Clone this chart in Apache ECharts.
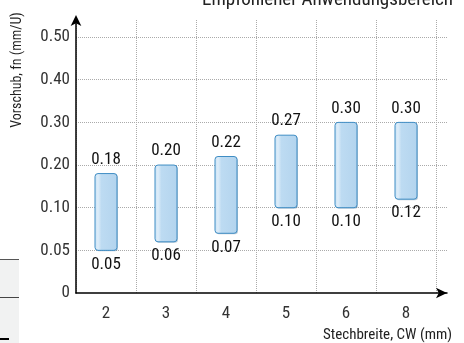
<!DOCTYPE html>
<html>
<head>
<meta charset="utf-8">
<script src="https://cdn.jsdelivr.net/npm/echarts@6/dist/echarts.min.js"></script>
<style>html,body{margin:0;padding:0;background:#fff}#c{width:464px;height:343px}</style>
</head>
<body>
<div id="c"></div>
<script>
const categories = ['2', '3', '4', '5', '6', '8'];
const minValues = [0.05, 0.06, 0.07, 0.10, 0.10, 0.12];
const maxValues = [0.18, 0.20, 0.22, 0.27, 0.30, 0.30];
const yTickValues = [0, 0.05, 0.10, 0.20, 0.30, 0.40, 0.50];
const yTickLabels = ['0', '0.05', '0.10', '0.20', '0.30', '0.40', '0.50'];

// piecewise axis: 0..0.10 in steps of 0.05, then steps of 0.10, each step equal length
function toPos(v) {
  for (let i = 1; i < yTickValues.length; i++) {
    if (v <= yTickValues[i]) {
      const a = yTickValues[i - 1], b = yTickValues[i];
      return (i - 1) + (v - a) / (b - a);
    }
  }
  return yTickValues.length - 1;
}

const FONT = "'Liberation Sans Narrow', 'Roboto Condensed', 'DejaVu Sans Condensed', sans-serif";
const barData = categories.map((c, i) => [i, toPos(minValues[i]), toPos(maxValues[i]), minValues[i], maxValues[i]]);
const YMAX = 6.4;

const chart = echarts.init(document.getElementById('c'), null, { renderer: 'canvas' });
chart.setOption({
  animation: false,
  backgroundColor: '#fff',
  grid: [
    { left: 76, right: 17, top: 20, bottom: 50 },
    { left: 76, right: 28, top: 20, bottom: 50 }
  ],
  xAxis: [
    {
      gridIndex: 0, type: 'value', min: 0, max: 6.18,
      axisLine: { show: true, lineStyle: { color: '#000', width: 1.5 }, symbol: ['none', 'arrow'], symbolSize: [8, 11], symbolOffset: [0, 0] },
      axisTick: { show: false }, axisLabel: { show: false }, splitLine: { show: false }
    },
    {
      gridIndex: 1, type: 'category', data: categories, boundaryGap: true,
      axisLine: { show: false }, axisTick: { show: false },
      axisLabel: { color: '#333', fontFamily: FONT, fontSize: 17, margin: 12 },
      splitLine: { show: true, lineStyle: { color: '#aaa', type: 'dotted', width: 1 } }
    }
  ],
  yAxis: [
    {
      gridIndex: 0, type: 'value', min: 0, max: YMAX, interval: 1,
      axisLine: { show: true, lineStyle: { color: '#000', width: 1.5 }, symbol: ['none', 'arrow'], symbolSize: [8, 11], symbolOffset: [0, 5] },
      axisTick: { show: false },
      axisLabel: {
        color: '#333', fontFamily: FONT, fontSize: 17, margin: 6, showMaxLabel: false,
        formatter: v => { const i = Math.round(v); return Math.abs(v - i) < 1e-6 && yTickLabels[i] != null ? yTickLabels[i] : ''; }
      },
      splitLine: { show: true, showMinLine: false, showMaxLine: false, lineStyle: { color: '#aaa', type: 'dotted', width: 1 } }
    },
    {
      gridIndex: 1, type: 'value', min: 0, max: YMAX, interval: 1, show: false
    }
  ],
  graphic: [
    { type: 'text', x: 17, y: 70, rotation: Math.PI / 2,
      style: { text: 'Vorschub, fn (mm/U)', fill: '#222', font: "14px " + FONT, textAlign: 'center', textVerticalAlign: 'middle' } },
    { type: 'text', x: 452, y: 335,
      style: { text: 'Stechbreite, CW (mm)', fill: '#222', font: "15px " + FONT, textAlign: 'right', textVerticalAlign: 'middle' } },
    { type: 'text', x: 453, y: 0,
      style: { text: 'Empfohlener Anwendungsbereich', fill: '#222', font: "19px " + FONT, textAlign: 'right', textVerticalAlign: 'middle' } },
    { type: 'rect', shape: { x: 0, y: 259, width: 19, height: 84 }, style: { fill: '#f1f2f2' }, z: 0 },
    { type: 'line', shape: { x1: 0, y1: 259.5, x2: 19, y2: 259.5 }, style: { stroke: '#555', lineWidth: 1 } },
    { type: 'line', shape: { x1: 0, y1: 297.5, x2: 19, y2: 297.5 }, style: { stroke: '#444', lineWidth: 1 } },
    { type: 'line', shape: { x1: 0, y1: 339, x2: 9, y2: 339 }, style: { stroke: '#000', lineWidth: 2 } }
  ],
  series: [{
    type: 'custom',
    xAxisIndex: 1, yAxisIndex: 1,
    data: barData,
    renderItem: function (params, api) {
      const x = api.value(0);
      const top = api.coord([x, api.value(2)]);
      const bot = api.coord([x, api.value(1)]);
      const w = 22;
      return {
        type: 'group',
        children: [
          { type: 'rect',
            shape: { x: top[0] - w / 2 + 1, y: top[1] + 1, width: w, height: bot[1] - top[1], r: 3 },
            style: { fill: 'rgba(40,90,130,0.3)' } },
          { type: 'rect',
            shape: { x: top[0] - w / 2, y: top[1], width: w, height: bot[1] - top[1], r: 3 },
            style: {
              fill: new echarts.graphic.LinearGradient(0, 0, 1, 0, [
                { offset: 0, color: '#c8e1f5' }, { offset: 0.15, color: '#deedf9' },
                { offset: 0.3, color: '#bddbf2' }, { offset: 1, color: '#b3d4ee' }
              ]),
              stroke: '#3f8dc4', lineWidth: 1
            } },
          { type: 'text', x: top[0], y: top[1] - 14,
            style: { text: api.value(4).toFixed(2), fill: '#111', font: "17px " + FONT, textAlign: 'center', textVerticalAlign: 'middle' } },
          { type: 'text', x: top[0], y: bot[1] + 14,
            style: { text: api.value(3).toFixed(2), fill: '#111', font: "17px " + FONT, textAlign: 'center', textVerticalAlign: 'middle' } }
        ]
      };
    }
  }]
});
</script>
</body>
</html>
